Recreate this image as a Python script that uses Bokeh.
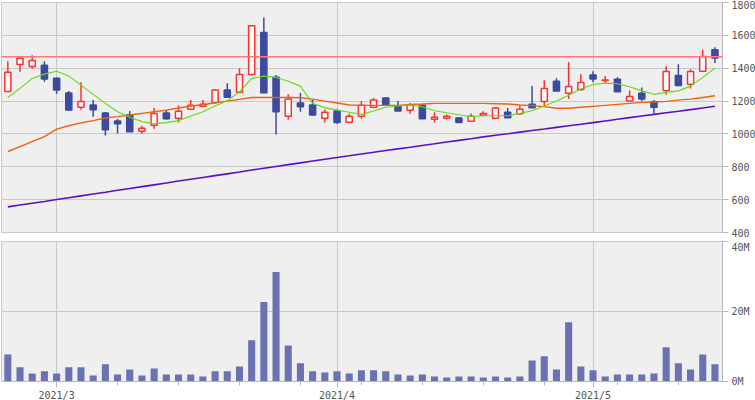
from bokeh.plotting import figure
from bokeh.layouts import column
from bokeh.models import FixedTicker, ColumnDataSource, Range1d, Span
from bokeh.embed import file_html
from bokeh.resources import INLINE
import pandas as pd

# ---- data ----
dates = [
    "2021-02-22", "2021-02-24", "2021-02-25", "2021-02-26",
    "2021-03-01", "2021-03-02", "2021-03-03", "2021-03-04", "2021-03-05",
    "2021-03-08", "2021-03-09", "2021-03-10", "2021-03-11", "2021-03-12",
    "2021-03-15", "2021-03-16", "2021-03-17", "2021-03-18", "2021-03-19",
    "2021-03-22", "2021-03-23", "2021-03-24", "2021-03-25", "2021-03-26",
    "2021-03-29", "2021-03-30", "2021-03-31",
    "2021-04-01", "2021-04-02",
    "2021-04-05", "2021-04-06", "2021-04-07", "2021-04-08", "2021-04-09",
    "2021-04-12", "2021-04-13", "2021-04-14", "2021-04-15", "2021-04-16",
    "2021-04-19", "2021-04-20", "2021-04-21", "2021-04-22", "2021-04-23",
    "2021-04-26", "2021-04-27", "2021-04-28", "2021-04-30",
    "2021-05-06", "2021-05-07",
    "2021-05-10", "2021-05-11", "2021-05-12", "2021-05-13", "2021-05-14",
    "2021-05-17", "2021-05-18", "2021-05-19", "2021-05-20",
]

open_ = [1259, 1422, 1410, 1418, 1339, 1249, 1162, 1176, 1127, 1079,
         1117, 1016, 1053, 1127, 1095, 1150, 1168, 1192, 1267, 1253,
         1362, 1618, 1345, 1107, 1188, 1176, 1095, 1139, 1071, 1107,
         1162, 1218, 1170, 1144, 1174, 1089, 1095, 1097, 1077, 1113,
         1095, 1132, 1123, 1180, 1198, 1321, 1247, 1271, 1358, 1325,
         1333, 1200, 1247, 1196, 1265, 1356, 1303, 1382, 1513]
high = [1442, 1470, 1479, 1442, 1345, 1261, 1315, 1206, 1133, 1091,
        1139, 1050, 1158, 1145, 1174, 1206, 1206, 1273, 1309, 1400,
        1662, 1709, 1358, 1242, 1249, 1206, 1150, 1150, 1125, 1200,
        1218, 1224, 1200, 1188, 1180, 1132, 1119, 1103, 1125, 1138,
        1164, 1158, 1170, 1291, 1327, 1339, 1438, 1364, 1382, 1352,
        1345, 1265, 1283, 1206, 1412, 1424, 1394, 1513, 1527]
low = [1259, 1378, 1396, 1317, 1244, 1139, 1147, 1105, 990, 1002,
       1014, 1002, 1032, 1087, 1069, 1145, 1162, 1184, 1220, 1247,
       1355, 1250, 996, 1087, 1135, 1109, 1069, 1062, 1071, 1093,
       1156, 1176, 1139, 1123, 1093, 1069, 1089, 1069, 1077, 1113,
       1095, 1099, 1117, 1160, 1170, 1262, 1212, 1265, 1315, 1307,
       1256, 1200, 1200, 1125, 1238, 1295, 1277, 1382, 1432]
close = [1376, 1461, 1447, 1335, 1268, 1145, 1198, 1147, 1026, 1062,
         1014, 1035, 1125, 1093, 1138, 1174, 1180, 1267, 1224, 1362,
         1659, 1250, 1135, 1212, 1166, 1115, 1132, 1069, 1107, 1174,
         1206, 1176, 1139, 1176, 1093, 1101, 1107, 1069, 1107, 1125,
         1158, 1099, 1150, 1160, 1277, 1262, 1289, 1313, 1335, 1329,
         1256, 1228, 1212, 1162, 1380, 1295, 1380, 1471, 1462]

ma_short = [1222, 1277, 1338, 1364, 1382, 1352, 1297, 1241, 1186, 1135,
            1101, 1075, 1061, 1069, 1081, 1109, 1135, 1170, 1202, 1256,
            1338, 1352, 1344, 1321, 1291, 1186, 1160, 1145, 1132, 1119,
            1139, 1162, 1170, 1176, 1166, 1141, 1129, 1117, 1105, 1111,
            1111, 1111, 1125, 1141, 1170, 1200, 1236, 1273, 1301, 1309,
            1305, 1287, 1262, 1241, 1253, 1262, 1291, 1344, 1400]
ma_mid = [893, 923, 953, 984, 1029, 1050, 1067, 1081, 1097, 1105,
          1115, 1125, 1135, 1145, 1158, 1170, 1178, 1190, 1200, 1210,
          1222, 1222, 1222, 1222, 1220, 1212, 1200, 1188, 1176, 1174,
          1174, 1174, 1174, 1180, 1182, 1186, 1186, 1186, 1186, 1186,
          1184, 1182, 1176, 1172, 1166, 1156, 1156, 1162, 1168, 1174,
          1180, 1186, 1192, 1194, 1198, 1206, 1212, 1222, 1232]
ma_long = [556, 567, 578, 589, 601, 612, 623, 634, 645, 657,
           668, 679, 690, 701, 713, 724, 735, 746, 757, 768,
           780, 791, 802, 813, 824, 835, 846, 857, 867, 878,
           888, 899, 909, 919, 930, 940, 951, 961, 971, 982,
           992, 1001, 1011, 1021, 1030, 1040, 1050, 1059, 1069, 1079,
           1089, 1099, 1109, 1119, 1129, 1138, 1148, 1158, 1168]

volume_m = [7.75, 4.1, 2.3, 2.9, 2.3, 4.1, 4.1, 1.7, 4.9, 2.0,
            3.4, 1.7, 3.7, 2.0, 2.0, 2.0, 1.4, 2.9, 2.9, 4.3,
            11.8, 22.7, 31.3, 10.3, 5.2, 2.9, 2.6, 2.9, 2.3, 3.2,
            3.2, 2.9, 2.0, 1.7, 2.0, 1.4, 1.15, 1.4, 1.4, 1.15,
            1.4, 1.15, 1.4, 6.0, 7.2, 3.4, 16.9, 4.3, 3.2, 1.4,
            2.0, 2.0, 2.0, 2.3, 9.8, 5.2, 3.4, 7.75, 4.9]

resistance_price = 1470
price_ticks = [400, 600, 800, 1000, 1200, 1400, 1600, 1800]
volume_ticks = [0, 20, 40]
volume_labels = ["0M", "20M", "40M"]

# ---- derived positions ----
dt = pd.to_datetime(dates)
idx = list(range(len(dates)))
month_idx = [i for i in idx if i > 0 and dt[i].month != dt[i - 1].month]
month_labels = {i: f"{dt[i].year}/{dt[i].month}" for i in month_idx}
week_idx = [i for i in idx if i > 0 and dt[i].weekday() == 0 and i not in month_idx]

UP = "#ff3030"
DOWN = "#3d4aa0"
up = [c >= o for o, c in zip(open_, close)]
src = ColumnDataSource(dict(
    x=idx,
    top=[max(o, c) for o, c in zip(open_, close)],
    bottom=[min(o, c) for o, c in zip(open_, close)],
    high=high, low=low,
    color=[UP if u else DOWN for u in up],
    fill=["#ffffff" if u else DOWN for u in up],
    vol=volume_m,
))

FONT = "DejaVu Sans Mono"
GRID = "#c8c8c8"
BG = "#efefef"
LBL = "#555555"

xr = Range1d(-0.52, 58.62)

p1 = figure(frame_width=721, frame_height=230, x_range=xr,
            y_range=Range1d(400, 1800), y_axis_location="right",
            x_axis_location=None, output_backend="svg",
            toolbar_location=None, min_border_left=1, min_border_top=2,
            min_border_bottom=9, min_border_right=33)
p1.background_fill_color = BG
p1.border_fill_color = "white"
p1.outline_line_color = GRID
p1.yaxis.ticker = FixedTicker(ticks=price_ticks)
p1.xgrid.ticker = FixedTicker(ticks=month_idx)
for g in (p1.xgrid, p1.ygrid):
    g.grid_line_color = GRID
    g.grid_line_width = 1

p1.segment(x0="x", x1="x", y0="low", y1="high", color="color",
           line_width=1.5, source=src)
p1.vbar(x="x", width=0.5, top="top", bottom="bottom", fill_color="fill",
        line_color="color", line_width=1.5, source=src)

p1.line(idx, ma_long, color="#5a10c8", line_width=1.6)
p1.line(idx, ma_mid, color="#f06010", line_width=1.4)
p1.line(idx, ma_short, color="#60dd10", line_width=1.1)
p1.add_layout(Span(location=resistance_price, dimension="width",
                   line_color="#ff7a7a", line_width=1.5))

p2 = figure(frame_width=721, frame_height=140, x_range=xr,
            y_range=Range1d(0, 40), y_axis_location="right",
            output_backend="svg", toolbar_location=None,
            min_border_left=1, min_border_top=0, min_border_right=33,
            min_border_bottom=0)
p2.background_fill_color = BG
p2.border_fill_color = "white"
p2.outline_line_color = GRID
p2.vbar(x="x", width=0.58, top="vol", bottom=0, fill_color="#6a72b2",
        line_color=None, source=src)
p2.yaxis.ticker = FixedTicker(ticks=volume_ticks)
p2.yaxis.major_label_overrides = dict(zip(volume_ticks, volume_labels))
p2.xaxis.ticker = FixedTicker(ticks=month_idx, minor_ticks=week_idx)
p2.xaxis.major_label_overrides = month_labels
p2.xgrid.ticker = FixedTicker(ticks=month_idx)
for g in (p2.xgrid, p2.ygrid):
    g.grid_line_color = GRID
    g.grid_line_width = 1

for p in (p1, p2):
    for ax in p.axis:
        ax.axis_line_color = "#b8b8b8"
        ax.major_tick_line_color = "#b8b8b8"
        ax.minor_tick_line_color = "#b8b8b8"
        ax.major_tick_in = 0
        ax.minor_tick_in = 0
        ax.major_tick_out = 6
        ax.minor_tick_out = 4
        ax.major_label_text_font = FONT
        ax.major_label_text_font_size = "10px"
        ax.major_label_text_color = LBL
        ax.major_label_standoff = 3
p1.yaxis.minor_tick_line_color = None
p2.yaxis.minor_tick_line_color = None
p2.xaxis.major_label_standoff = 2

layout = column(p1, p2, spacing=0)
open("out.html", "w").write(file_html(layout, INLINE))
